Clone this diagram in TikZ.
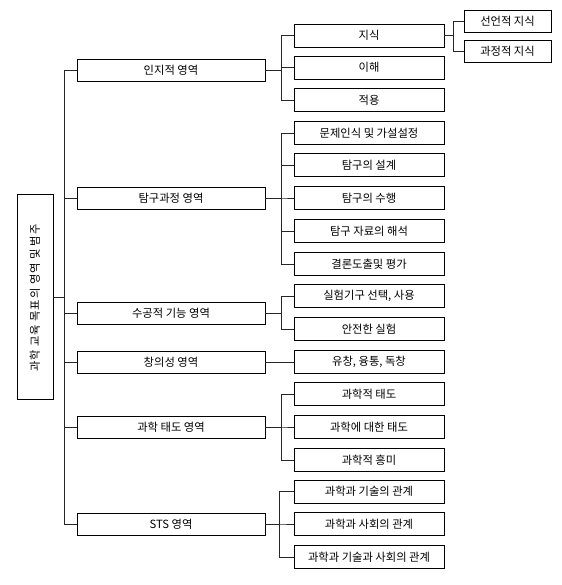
\documentclass[tikz,border=0pt]{standalone}
\usepackage{fontspec}
\setmainfont{Noto Sans CJK KR}
\begin{document}
\begin{tikzpicture}[x=1pt,y=-1pt,
  box/.style={draw=black,line width=0.9pt,inner sep=0pt,font=\fontsize{11.3}{13}\selectfont,anchor=center},
  lvone/.style={box,minimum width=188pt,minimum height=22pt},
  lvtwo/.style={box,minimum width=150pt,minimum height=23pt},
  lvthree/.style={box,minimum width=87pt,minimum height=22pt},
  conn/.style={draw=black!85,line width=0.8pt}]
\useasboundingbox (0,0) rectangle (561,585);
\node[box,minimum width=36pt,minimum height=205pt] (root) at (35,297) {};
\node[rotate=90,font=\fontsize{11.3}{13}\selectfont\addfontfeatures{LetterSpace=8},inner sep=0pt] (roottext) at (35,298) {과학 교육 목표의 영역 및 범주};
% level 1
\node[lvone] (a1) at (171,70) {인지적 영역};
\node[lvone] (a2) at (171,198) {탐구과정 영역};
\node[lvone] (a3) at (171,313) {수공적 기능 영역};
\node[lvone] (a4) at (171,362) {창의성 영역};
\node[lvone] (a5) at (171,427) {과학 태도 영역};
\node[lvone] (a6) at (171,524) {STS 영역};
% level 2
\node[lvtwo] (b1) at (369,35.5) {지식};
\node[lvtwo] (b2) at (369,67.5) {이해};
\node[lvtwo] (b3) at (369,100) {적용};
\node[lvtwo] (b4) at (369,133) {문제인식 및 가설설정};
\node[lvtwo] (b5) at (369,165) {탐구의 설계};
\node[lvtwo] (b6) at (369,198) {탐구의 수행};
\node[lvtwo] (b7) at (369,231) {탐구 자료의 해석};
\node[lvtwo] (b8) at (369,264) {결론도출및 평가};
\node[lvtwo] (b9) at (369,296) {실험기구 선택, 사용};
\node[lvtwo] (b10) at (369,329) {안전한 실험};
\node[lvtwo] (b11) at (369,362) {유창, 융통, 독창};
\node[lvtwo] (b12) at (369,394) {과학적 태도};
\node[lvtwo] (b13) at (369,427) {과학에 대한 태도};
\node[lvtwo] (b14) at (369,460) {과학적 흥미};
\node[lvtwo] (b15) at (369,491.5) {과학과 기술의 관계};
\node[lvtwo] (b16) at (369,524) {과학과 사회의 관계};
\node[lvtwo] (b17) at (369,557) {과학과 기술과 사회의 관계};
% level 3
\node[lvthree] (c1) at (507.5,21) {선언적 지식};
\node[lvthree] (c2) at (507.5,51.5) {과정적 지식};
% trunk
\foreach \a in {a1,a2,a3,a4,a5,a6}
  \draw[conn] (root.east) -- ++(11,0) |- (\a.west);
% level1 -> level2
\foreach \b in {b1,b2,b3}
  \draw[conn] (a1.east) -- ++(16,0) |- (\b.west);
\foreach \b in {b4,b5,b6,b7,b8}
  \draw[conn] (a2.east) -- ++(16,0) |- (\b.west);
\foreach \b in {b9,b10}
  \draw[conn] (a3.east) -- ++(16,0) |- (\b.west);
\draw[conn] (a4.east) -- (b11.west);
\foreach \b in {b12,b13,b14}
  \draw[conn] (a5.east) -- ++(16,0) |- (\b.west);
\foreach \b in {b15,b16,b17}
  \draw[conn] (a6.east) -- ++(14,0) |- (\b.west);
% level2 -> level3
\foreach \c in {c1,c2}
  \draw[conn] (b1.east) -- ++(9,0) |- (\c.west);
\end{tikzpicture}
\end{document}
